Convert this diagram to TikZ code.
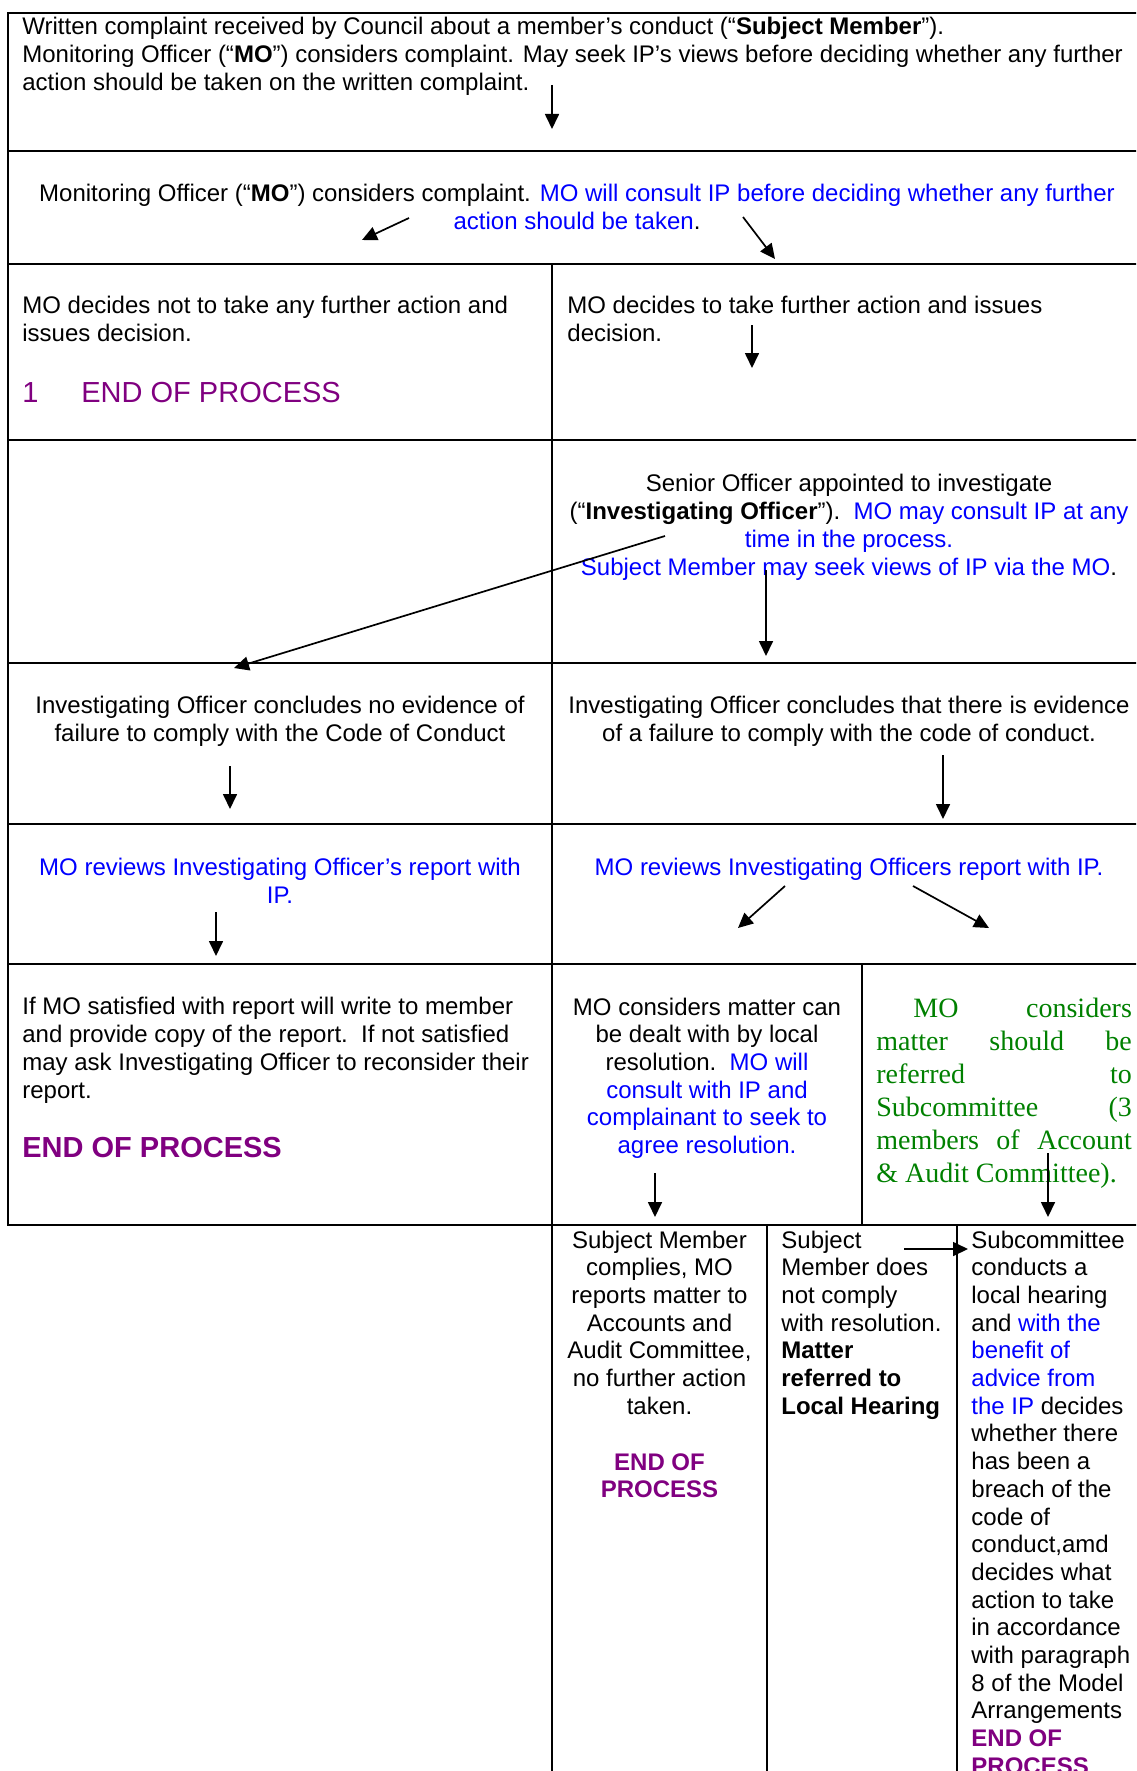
\documentclass[tikz,border=0pt]{standalone}
\usepackage{fontspec}
\setmainfont{Liberation Sans}
\newfontfamily\greenserif{Liberation Serif}
\usepackage{xcolor}
\usepackage{tikz}
\usetikzlibrary{arrows.meta}

\definecolor{ipblue}{RGB}{0,0,255}
\definecolor{endpurple}{RGB}{128,0,128}
\definecolor{subgreen}{RGB}{0,128,0}

\tikzset{
  rule/.style={line width=1.1pt,line cap=rect},
  vrule/.style={line width=0.85pt},
  body/.style={inner sep=0pt,font=\fontsize{12}{13.85}\selectfont},
  endp/.style={inner sep=0pt,text=endpurple,font=\fontsize{14.5}{16}\selectfont},
  arr/.style={line width=0.85pt,-{Triangle[length=7.5pt,width=7pt]}}
}

\begin{document}
\begin{tikzpicture}[x=0.5pt,y=-0.5pt]
\useasboundingbox (0,0) rectangle (1136,1771);
\clip (0,0) rectangle (1136,1771);
% table rules
\foreach \yy in {13,151,264,440,663,824,964,1225}
  \draw[rule] (8,\yy) -- (1146,\yy);
\draw[rule] (8,13) -- (8,1225);
\draw[vrule] (552,264) -- (552,1771);
\draw[vrule] (862,964) -- (862,1225);
\draw[vrule] (767,1225) -- (767,1771);
\draw[vrule] (957,1225) -- (957,1771);

% rows 1 and 2 (base = last line)
\node[body,anchor=base west,align=left] (complaint) at (22,90.4) {Written complaint received by Council about a member’s conduct (“\textbf{Subject Member}”).\\Monitoring Officer (“\textbf{MO}”) considers complaint. May seek IP’s views before deciding whether any further\\action should be taken on the written complaint.};
\node[body,anchor=base,align=center] (consider) at (577,229.7) {Monitoring Officer (“\textbf{MO}”) considers complaint. \textcolor{ipblue}{MO will consult IP before deciding whether any further}\\\textcolor{ipblue}{action should be taken}.};

% row 3
\node[body,anchor=base west,align=left] (noaction) at (22,341) {MO decides not to take any further action and\\issues decision.};
\node[endp,anchor=base west] (endone) at (22,402) {\makebox[29.5pt][l]{1}END OF PROCESS};
\node[body,anchor=base west,align=left] (action) at (567,341) {MO decides to take further action and issues\\decision.};

% row 4
\node[body,anchor=base,align=center] (appoint) at (849,575) {Senior Officer appointed to investigate\\(“\textbf{Investigating Officer}”).\ \ \textcolor{ipblue}{MO may consult IP at any}\\\textcolor{ipblue}{time in the process.}\\\textcolor{ipblue}{Subject Member may seek views of IP via the MO}.};

% row 5
\node[body,anchor=base,align=center] (noevid) at (280,741) {Investigating Officer concludes no evidence of\\failure to comply with the Code of Conduct};
\node[body,anchor=base,align=center] (evid) at (849,741) {Investigating Officer concludes that there is evidence\\of a failure to comply with the code of conduct.};

% row 6
\node[body,anchor=base,align=center,text=ipblue] (reviewno) at (280,903) {MO reviews Investigating Officer’s report with\\IP.};
\node[body,anchor=base,align=center,text=ipblue] (reviewyes) at (849,875) {MO reviews Investigating Officers report with IP.};

% row 7
\node[body,anchor=base west,align=left] (satisfied) at (22,1098) {If MO satisfied with report will write to member\\and provide copy of the report.\ \ If not satisfied\\may ask Investigating Officer to reconsider their\\report.};
\node[endp,anchor=base west,font=\bfseries\fontsize{14.5}{16}\selectfont] (endsat) at (22,1157) {END OF PROCESS};
\node[body,anchor=base,align=center] (local) at (707,1153.5) {MO considers matter can\\be dealt with by local\\resolution.\ \ \textcolor{ipblue}{MO will}\\\textcolor{ipblue}{consult with IP and}\\\textcolor{ipblue}{complainant to seek to}\\\textcolor{ipblue}{agree resolution.}};
\node[inner sep=0pt,anchor=base west,align=left,text=subgreen,font=\greenserif\fontsize{14}{16.55}\selectfont] (refer) at (876,1182.5) {\makebox[127.75pt][s]{\hspace*{18.5pt}MO considers}\\\makebox[127.75pt][s]{matter should be}\\\makebox[127.75pt][s]{referred to}\\\makebox[127.75pt][s]{Subcommittee (3}\\\makebox[127.75pt][s]{members of Account}\\\& Audit Committee).};

% row 8
\node[body,anchor=base,align=center] (complies) at (659.5,1414.2) {Subject Member\\complies, MO\\reports matter to\\Accounts and\\Audit Committee,\\no further action\\taken.};
\node[body,anchor=base,align=center,text=endpurple,font=\bfseries\fontsize{12}{13.85}\selectfont] (endcomp) at (659.5,1497.7) {END OF\\PROCESS};
\node[body,anchor=base west,align=left] (nocomply) at (781,1414.2) {Subject\\Member does\\not comply\\with resolution.\\\textbf{Matter}\\\textbf{referred to}\\\textbf{Local Hearing}};
\node[body,anchor=base west,align=left] (hearing) at (971,1774.3) {Subcommittee\\conducts a\\local hearing\\and \textcolor{ipblue}{with the}\\\textcolor{ipblue}{benefit of}\\\textcolor{ipblue}{advice from}\\\textcolor{ipblue}{the IP} decides\\whether there\\has been a\\breach of the\\code of\\conduct,amd\\decides what\\action to take\\in accordance\\with paragraph\\8 of the Model\\Arrangements\\\textbf{\textcolor{endpurple}{END OF}}\\\textbf{\textcolor{endpurple}{PROCESS}}};

% arrow ends
\coordinate (s1) at (552,85);   \coordinate (t1) at (552,129);
\coordinate (s2) at (409,218);  \coordinate (t2) at (362,240);
\coordinate (s3) at (743,217);  \coordinate (t3) at (775,259);
\coordinate (s4) at (752,325);  \coordinate (t4) at (752,368);
\coordinate (s5) at (665,536);  \coordinate (t5) at (234,668);
\coordinate (s6) at (766,570);  \coordinate (t6) at (766,656);
\coordinate (s7) at (230,766);  \coordinate (t7) at (230,809);
\coordinate (s8) at (943,755);  \coordinate (t8) at (943,819);
\coordinate (s9) at (216,912);  \coordinate (t9) at (216,956);
\coordinate (s10) at (785,886); \coordinate (t10) at (738,928);
\coordinate (s11) at (913,886); \coordinate (t11) at (989,928);
\coordinate (s12) at (655,1173); \coordinate (t12) at (655,1217);
\coordinate (s13) at (1048,1153); \coordinate (t13) at (1048,1217);
\coordinate (s14) at (904,1249); \coordinate (t14) at (968,1249);

\draw[arr] (s1) -- (t1);
\draw[arr] (s2) -- (t2);
\draw[arr] (s3) -- (t3);
\draw[arr] (s4) -- (t4);
\draw[arr] (s5) -- (t5);
\draw[arr] (s6) -- (t6);
\draw[arr] (s7) -- (t7);
\draw[arr] (s8) -- (t8);
\draw[arr] (s9) -- (t9);
\draw[arr] (s10) -- (t10);
\draw[arr] (s11) -- (t11);
\draw[arr] (s12) -- (t12);
\draw[arr] (s13) -- (t13);
\draw[arr] (s14) -- (t14);
\end{tikzpicture}
\end{document}
